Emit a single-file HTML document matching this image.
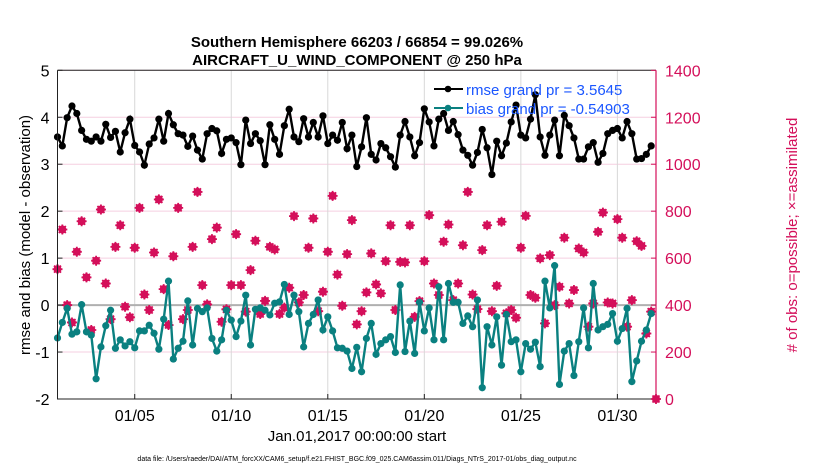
<!DOCTYPE html>
<html><head><meta charset="utf-8"><style>
body{margin:0;background:#fff}
svg text{font-family:"Liberation Sans",Arial,sans-serif}
</style></head><body>
<svg id="chart" width="830" height="470" xmlns="http://www.w3.org/2000/svg">
<rect width="830" height="470" fill="#fff"/>
<g id="grid"></g>
<g id="series"></g>
<g id="axes"></g>
<text x="357" y="47" font-size="15" font-weight="bold" text-anchor="middle">Southern Hemisphere 66203 / 66854 = 99.026%</text>
<text x="357" y="65" font-size="15" font-weight="bold" text-anchor="middle">AIRCRAFT_U_WIND_COMPONENT @ 250 hPa</text>
<text x="357" y="441" font-size="15" text-anchor="middle">Jan.01,2017 00:00:00 start</text>
<text transform="translate(30,235) rotate(-90)" font-size="15" text-anchor="middle">rmse and bias (model - observation)</text>
<text transform="translate(797,235) rotate(-90)" font-size="15" fill="#d40f5a" text-anchor="middle"># of obs: o=possible; ×=assimilated</text>
<text x="357" y="461" font-size="7" text-anchor="middle">data file: /Users/raeder/DAI/ATM_forcXX/CAM6_setup/f.e21.FHIST_BGC.f09_025.CAM6assim.011/Diags_NTrS_2017-01/obs_diag_output.nc</text>
<g>
<line x1="434" y1="89" x2="463" y2="89" stroke="#000" stroke-width="2"/><circle cx="448" cy="89" r="3.3" fill="#000"/>
<text x="466" y="95" font-size="15" fill="#1a56ff">rmse grand pr = 3.5645</text>
<line x1="434" y1="108" x2="463" y2="108" stroke="#0a8080" stroke-width="2"/><circle cx="448" cy="108" r="3.3" fill="#0a8080"/>
<text x="466" y="114" font-size="15" fill="#1a56ff">bias grand pr = -0.54903</text>
</g>
</svg>
<script>
const rmse=[3.58,3.39,3.99,4.24,4.08,3.72,3.53,3.49,3.58,3.49,3.85,3.57,3.70,3.26,3.67,3.96,3.40,3.26,2.98,3.43,3.56,3.96,3.49,4.08,3.84,3.65,3.62,3.38,3.60,3.30,3.11,3.65,
3.76,3.71,3.23,3.53,3.56,3.46,2.99,3.94,3.44,3.65,3.50,2.99,3.84,3.53,3.21,3.82,4.17,3.58,3.48,3.97,3.58,3.89,3.58,4.03,3.44,3.62,3.51,3.89,3.33,3.62,2.95,
3.37,3.99,3.21,3.09,3.44,3.35,3.16,2.94,3.62,3.91,3.58,3.18,3.46,4.18,3.90,3.39,3.96,4.08,3.72,3.91,3.63,3.30,3.19,2.98,3.25,3.74,3.35,2.78,3.49,3.18,3.45,
3.90,4.26,3.62,3.56,3.96,4.48,3.58,3.19,3.62,3.94,3.18,4.04,3.82,3.56,3.11,3.11,3.37,3.46,3.04,3.23,3.65,3.72,3.76,3.56,3.91,3.65,3.11,3.12,3.21,3.39];
const bias=[-0.70,-0.37,-0.07,-0.62,-0.57,0.01,-0.57,-0.64,-1.57,-0.89,-0.44,-0.11,-0.92,-0.74,-0.87,-0.78,-0.91,-0.55,-0.55,-0.43,-0.60,-0.94,-0.30,0.51,-1.15,-0.92,-0.77,0.09,-0.85,-0.07,-0.14,-0.06,
-0.71,-0.98,-0.74,-0.11,-0.32,-0.67,-0.34,0.21,-0.85,-0.09,-0.06,-0.11,-0.21,0.04,0.07,0.44,-0.20,0.21,-0.14,-0.89,-0.39,-0.20,0.11,-0.53,-0.25,-0.55,-0.91,-0.92,-0.98,-1.35,-0.90,
-1.42,-0.71,-0.39,-1.05,-0.82,-0.74,-0.67,-1.01,0.43,-0.99,-0.34,-1.03,0.06,-0.55,-0.06,-0.74,0.39,-0.74,0.46,0.06,0.06,-0.39,-0.23,-0.46,0.11,-1.76,-0.46,-0.85,-0.25,-1.28,-0.20,
-0.78,-0.74,-1.42,-0.82,-0.94,-0.79,-1.31,0.51,-0.06,0.84,-1.69,-0.98,-0.82,-1.50,-0.78,-0.06,-0.91,0.46,-0.53,-0.46,-0.41,-0.18,-0.77,-0.50,-0.07,-1.63,-1.19,-0.77,-0.53,-0.18];
const nobs=[553,722,400,326,627,757,518,294,589,807,492,340,648,740,393,348,644,814,445,379,624,850,468,315,608,814,340,379,648,882,485,403,
681,730,329,382,485,702,485,372,549,674,362,418,648,637,362,389,474,779,411,443,644,769,374,457,627,865,530,397,617,762,318,
374,454,620,488,450,587,740,379,584,582,740,350,417,587,783,492,443,670,743,421,492,655,882,445,383,634,740,374,482,755,365,
379,346,644,780,443,431,599,322,613,400,478,687,407,464,641,624,308,407,712,794,411,407,766,687,308,421,672,652,279,372,0];
const leftTicks=[-2,-1,0,1,2,3,4,5];
const rightTicks=[0,200,400,600,800,1000,1200,1400];
const dateTicks=[4,9,14,19,24,29];
const dateLabels=["01/05","01/10","01/15","01/20","01/25","01/30"];
const stepDays=0.25;

const L=57.5,R=656,T=70.3,B=399;
const X=d=>L+(d/31)*(R-L);
const Y=v=>B-(v+2)/7*(B-T);
const Y2=c=>B-c/1400*(B-T);
const NS="http://www.w3.org/2000/svg";
function mk(tag,at,parent){const e=document.createElementNS(NS,tag);for(const k in at)e.setAttribute(k,at[k]);parent.appendChild(e);return e;}
const grid=document.getElementById('grid'),ser=document.getElementById('series'),ax=document.getElementById('axes');
leftTicks.forEach(v=>{const l=mk('line',{x1:L,x2:R,y1:Y(v),y2:Y(v),stroke:'#f5cfe0','stroke-width':1},grid);

});
dateTicks.forEach(d=>{const l=mk('line',{x1:X(d),x2:X(d),y1:T,y2:B,stroke:'#d8d8d8','stroke-width':1},grid);

});
const z=mk('line',{x1:L,x2:R,y1:Y(0),y2:Y(0),stroke:'#b0b0b0','stroke-width':2},grid);


nobs.forEach((c,i)=>{const g=mk('g',{},ser);


const x=X(i*stepDays),y=Y2(c);
mk('circle',{cx:x,cy:y,r:3.5,fill:'#d40f5a',stroke:'#d40f5a','stroke-width':1},g);
mk('path',{d:`M${x-5} ${y}H${x+5}M${x} ${y-5}V${y+5}M${x-3.5} ${y-3.5}L${x+3.5} ${y+3.5}M${x-3.5} ${y+3.5}L${x+3.5} ${y-3.5}`,stroke:'#d40f5a','stroke-width':1.8},g);});
function line(arr,col,name){const p=arr.map((v,i)=>X(i*stepDays)+','+Y(v)).join(' ');
const pl=mk('polyline',{points:p,fill:'none',stroke:col,'stroke-width':2.4},ser);


arr.forEach((v,i)=>{const c=mk('circle',{cx:X(i*stepDays),cy:Y(v),r:3.6,fill:col},ser);

});}
line(bias,'#0a8080','bias');
line(rmse,'#000','rmse');
const f=mk('path',{d:`M${L} ${T}H${R}M${L} ${T}V${B}H${R}`,fill:'none',stroke:'#222','stroke-width':1},ax);


const ra=mk('line',{x1:R,x2:R,y1:T,y2:B,stroke:'#d40f5a','stroke-width':1.2},ax);


leftTicks.forEach(v=>{mk('line',{x1:L,x2:L+5,y1:Y(v),y2:Y(v),stroke:'#222'},ax);
const t=mk('text',{x:L-8,y:Y(v)+6,'font-size':16,'text-anchor':'end'},ax);t.textContent=v;

});
rightTicks.forEach(c=>{mk('line',{x1:R-5,x2:R,y1:Y2(c),y2:Y2(c),stroke:'#d40f5a'},ax);
const t=mk('text',{x:R+9,y:Y2(c)+6,'font-size':16,fill:'#d40f5a'},ax);t.textContent=c;

});
dateTicks.forEach((d,i)=>{mk('line',{x1:X(d),x2:X(d),y1:B-5,y2:B,stroke:'#222'},ax);
const t=mk('text',{x:X(d),y:B+22,'font-size':16,'text-anchor':'middle'},ax);t.textContent=dateLabels[i];

});
</script>
</body></html>
